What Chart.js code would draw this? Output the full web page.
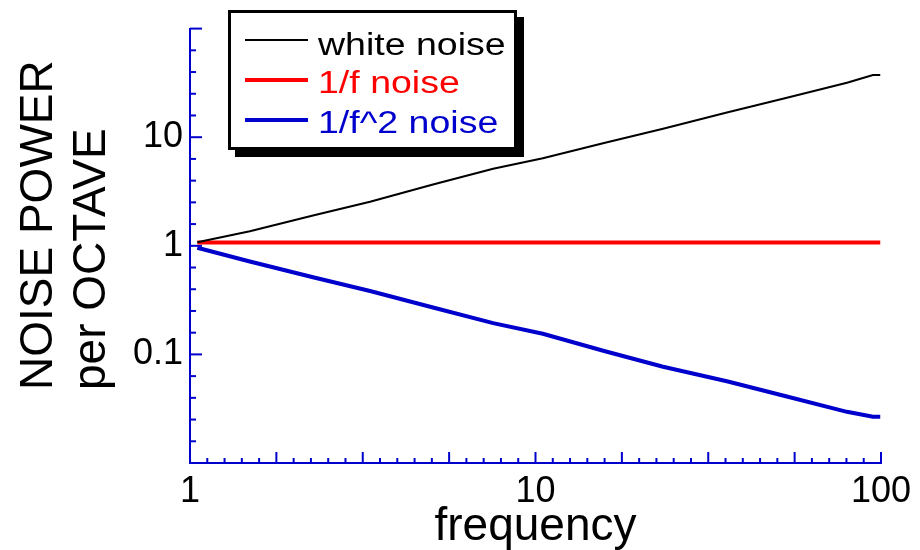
<!DOCTYPE html>
<html>
<head>
<meta charset="utf-8">
<script src="https://cdn.jsdelivr.net/npm/chart.js@4/dist/chart.umd.min.js"></script>
<style>
  body { margin: 0; background: #fff; }
  #wrap { position: relative; width: 920px; height: 550px; }
  #legend {
    position: absolute; left: 228px; top: 10px;
    width: 283px; height: 134px;
    border: 3px solid #000; background: #fff;
    box-shadow: 7px 7px 0 #000;
    font-family: "Liberation Sans", Arial, sans-serif;
  }
  #legend .swatch { position: absolute; left: 14px; width: 63px; }
  #legend .label {
    position: absolute; left: 87px; font-size: 31px; line-height: 31px;
    white-space: nowrap; transform: scaleX(1.21); transform-origin: left center;
  }
</style>
</head>
<body>
<div id="wrap">
  <canvas id="myChart" width="920" height="550"></canvas>
  <div id="legend"></div>
</div>
<script>
// values
const freq = [1.05, 1.49, 2.27, 3.32, 5.05, 7.54, 10.5, 15.9, 23.4, 35.8, 52.7, 79.7, 94.8, 99.5];
const whitePower = [1.08, 1.36, 1.90, 2.54, 3.67, 5.12, 6.40, 8.88, 11.97, 16.9, 22.8, 31.7, 37.4, 37.4];
const pinkPower = [1.07, 1.07, 1.07, 1.07, 1.07, 1.07, 1.07, 1.07, 1.07, 1.07, 1.07, 1.07, 1.07, 1.07];
const brownPower = [0.96, 0.716, 0.513, 0.383, 0.270, 0.194, 0.155, 0.107, 0.077, 0.0566, 0.0414, 0.0296, 0.0267, 0.0267];

const seriesNames = ['white noise', '1/f noise', '1/f^2 noise'];

// axes: decades, tick step (in decades) and which values get a label
const xRange = [1, 100];
const yRange = [0.01, 100];
const xTickStep = 0.05, xMajorEvery = 5;
const yTickStep = 0.2, yMajorEvery = 5;
const xTickLabels = [1, 10, 100];
const yTickLabels = [0.1, 1, 10];

const xTitle = 'frequency';
const yTitleLines = ['NOISE POWER', 'per OCTAVE'];

const axisBlue = '#0000cd';
const fontFamily = '"Liberation Sans", Arial, sans-serif';

function logTicks(range, step, majorEvery) {
  const lo = Math.log10(range[0]), hi = Math.log10(range[1]);
  const n = Math.round((hi - lo) / step);
  const out = [];
  for (let i = 0; i <= n; i++) {
    out.push({ value: Math.pow(10, lo + i * step), major: i % majorEvery === 0 });
  }
  return out;
}

function labelFor(list) {
  return function (value) {
    const hit = list.find(v => Math.abs(Math.log10(v) - Math.log10(value)) < 1e-6);
    return hit === undefined ? '' : String(hit);
  };
}

function pts(ys) {
  return freq.map((f, i) => ({ x: f, y: ys[i] }));
}

// inward tick marks, like the original plot
const innerTicks = {
  id: 'innerTicks',
  beforeDatasetsDraw(chart) {
    const { ctx, chartArea, scales } = chart;
    ctx.save();
    ctx.strokeStyle = axisBlue;
    ctx.lineWidth = 2;
    scales.x.ticks.forEach(t => {
      const px = scales.x.getPixelForValue(t.value);
      const len = t.major ? 11 : 5;
      ctx.beginPath();
      ctx.moveTo(px, chartArea.bottom);
      ctx.lineTo(px, chartArea.bottom - len);
      ctx.stroke();
    });
    scales.y.ticks.forEach(t => {
      const py = scales.y.getPixelForValue(t.value);
      const len = t.major ? 12 : 6;
      ctx.beginPath();
      ctx.moveTo(chartArea.left, py);
      ctx.lineTo(chartArea.left + len, py);
      ctx.stroke();
    });
    ctx.restore();
  }
};

// two-line y title, both lines start at the same height
const yTitle = {
  id: 'yTitle',
  afterDraw(chart) {
    const ctx = chart.ctx;
    const baselines = [52, 105];
    ctx.save();
    ctx.fillStyle = '#000';
    ctx.font = '46px ' + fontFamily;
    ctx.textAlign = 'left';
    ctx.textBaseline = 'alphabetic';
    yTitleLines.forEach((line, i) => {
      ctx.save();
      ctx.translate(baselines[i], 390);
      ctx.rotate(-Math.PI / 2);
      ctx.fillText(line, 0, 0);
      ctx.restore();
    });
    ctx.restore();
  }
};

const ctx = document.getElementById('myChart').getContext('2d');
const myChart = new Chart(ctx, {
  type: 'line',
  data: {
    datasets: [
      { label: seriesNames[0], data: pts(whitePower), borderColor: '#000000', borderWidth: 2 },
      { label: seriesNames[1], data: pts(pinkPower), borderColor: '#ff0000', borderWidth: 4 },
      { label: seriesNames[2], data: pts(brownPower), borderColor: axisBlue, borderWidth: 4 }
    ]
  },
  options: {
    responsive: false,
    animation: false,
    layout: { padding: { top: 24, right: 39, left: 0, bottom: 0 } },
    elements: { point: { radius: 0 }, line: { tension: 0, borderCapStyle: 'butt' } },
    plugins: { legend: { display: false }, tooltip: { enabled: false } },
    scales: {
      x: {
        type: 'logarithmic',
        min: xRange[0], max: xRange[1],
        afterBuildTicks: s => { s.ticks = logTicks(xRange, xTickStep, xMajorEvery); },
        afterFit: s => { s.height = 87; },
        grid: { drawOnChartArea: false, drawTicks: false },
        border: { display: true, color: axisBlue, width: 2 },
        ticks: {
          autoSkip: false, maxRotation: 0, padding: 7, color: '#000',
          font: { family: fontFamily, size: 36, lineHeight: 1.2 },
          callback: labelFor(xTickLabels)
        },
        title: {
          display: true, text: xTitle, color: '#000', padding: 0,
          font: { family: fontFamily, size: 46, lineHeight: 1.0 }
        }
      },
      y: {
        type: 'logarithmic',
        min: yRange[0], max: yRange[1],
        afterBuildTicks: s => { s.ticks = logTicks(yRange, yTickStep, yMajorEvery); },
        afterFit: s => { s.width = 190; },
        grid: { drawOnChartArea: false, drawTicks: false },
        border: { display: true, color: axisBlue, width: 2 },
        ticks: {
          autoSkip: false, padding: 7, color: '#000',
          font: { family: fontFamily, size: 36 },
          callback: labelFor(yTickLabels)
        }
      }
    }
  },
  plugins: [innerTicks, yTitle]
});

// boxed legend with a drop shadow
const legendRows = [{ line: 40, base: 55 }, { line: 80, base: 93.5 }, { line: 119.5, base: 133 }];
const legendEl = document.getElementById('legend');
myChart.data.datasets.forEach((ds, i) => {
  const inner = 13; // legend top + border
  const sw = document.createElement('div');
  sw.className = 'swatch';
  sw.style.top = (legendRows[i].line - inner - ds.borderWidth / 2) + 'px';
  sw.style.height = ds.borderWidth + 'px';
  sw.style.background = ds.borderColor;
  legendEl.appendChild(sw);
  const tx = document.createElement('div');
  tx.className = 'label';
  tx.style.top = (legendRows[i].base - inner - 26.2) + 'px';
  tx.style.color = ds.borderColor;
  tx.textContent = ds.label;
  legendEl.appendChild(tx);
});
</script>
</body>
</html>
